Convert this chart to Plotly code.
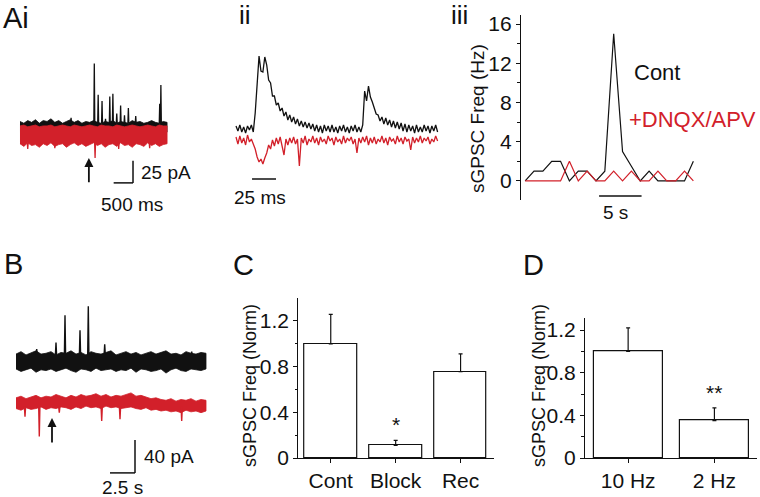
import plotly.graph_objects as go

W, H = 760, 497
RED = '#d2202a'
BLK = '#111111'
FONT = 'Liberation Sans, Arial, sans-serif'

# ---------------- Panel Ai (time in s, current in pA) ----------------
ai_t = [0.0, 0.1, 0.2, 0.3, 0.4, 0.5, 0.6, 0.7, 0.8, 0.9, 1.0, 1.1, 1.2, 1.3, 1.4, 1.5, 1.6, 1.7, 1.8, 1.9,
        2.0, 2.1, 2.2, 2.3, 2.4, 2.5, 2.6, 2.7, 2.8, 2.9, 3.0, 3.1, 3.2, 3.3, 3.4, 3.5, 3.6, 3.7, 3.8]
ai_black_top = [4, 2, 5, 3, 6, 2, 5, 4, 7, 3, 5, 2, 4, 6, 3, 5, 2, 4, 3, 5, 3, 2, 4, 3, 5, 2, 4, 3, 2, 5,
                3, 4, 2, 3, 5, 3, 2, 4, 3]
ai_black_bot = [-8, -10, -7, -9, -8, -11, -7, -9, -10, -8, -7, -9, -10, -8, -11, -7, -9, -8, -10, -7, -9, -8,
                -10, -9, -7, -8, -10, -9, -8, -7, -9, -10, -8, -9, -7, -10, -8, -9, -8]
ai_red_top = [-1, 0, -2, -1, 0, -2, -1, -1, 0, -2, -1, 0, -1, -2, 0, -1, -2, -1, 0, -1, -2, 0, -1, -1, -2, 0,
              -1, -2, -1, 0, -1, -2, -1, 0, -1, -2, 0, -1, -1]
ai_red_bot = [-21, -24, -20, -23, -22, -25, -21, -23, -20, -24, -22, -21, -25, -22, -20, -23, -21, -24, -22,
              -20, -23, -21, -25, -22, -21, -24, -20, -23, -22, -25, -21, -22, -24, -20, -23, -21, -24, -22, -21]
ai_spike_t = [1.32, 1.92, 2.02, 2.12, 2.21, 2.32, 2.40, 2.50, 2.60, 2.70, 2.80, 2.99, 3.61, 3.64]
ai_spike_amp = [8, 69, 34, 27, 7, 32, 35, 13, 22, 11, 19, 10, 24, 45]
ai_dip_t = [0.2, 0.9, 1.94, 2.55, 3.35]
ai_dip_amp = [-27, -26, -37, -27, -26]

# ---------------- Panel ii (time in ms, current in arbitrary pA) ----------------
ii_t = [0, 2, 4, 6, 8, 10, 12, 14, 16, 18, 20, 22, 24, 26, 28, 30, 32, 34, 36, 38, 40, 42, 44, 46, 48, 50,
        52, 54, 56, 58, 60, 62, 64, 66, 68, 70, 72, 74, 76, 78, 80, 82, 84, 86, 88, 90, 92, 94, 96, 98,
        100, 102, 104, 106, 108, 110, 112, 114, 116, 118, 120, 122, 124, 126, 128, 130, 132, 134, 136,
        138, 140, 142, 144, 146, 148, 150, 152, 154, 156, 158, 160, 162, 164, 166, 168, 170, 172, 174,
        176, 178, 180, 182, 184, 186, 188, 190, 192, 194, 196, 198, 200, 202, 204, 206, 208, 210]
ii_black = [3, -2, 4, -3, 2, -4, 3, -1, 4, -3,
            16, 44, 73, 58, 57, 72, 64, 49, 46, 33,
            33, 24, 26, 18, 21, 13, 17, 9, 14, 7,
            12, 5, 10, 3, 8, 2, 7, 1, 6, 0,
            5, -2, 4, -3, 3, -4, 4, -2, 3, -3,
            4, -3, 2, -4, 3, -2, 4, -3, 2, -4,
            3, -2, 4, -3, 2, -3, 4,
            38, 28, 43, 32, 27, 21, 15, 14, 8, 12,
            5, 11, 4, 9, 2, 8, 1, 7, 0, 6,
            -2, 5, -3, 4, -2, 3, -4, 4, -3, 2,
            -3, 4, -2, 3, -4, 3, -2, 4, -3]
ii_red = [-8, -15, -7, -14, -9, -16, -6, -13, -10, -15,
          -20, -28, -33, -30, -35, -29, -24, -16, -20, -11,
          -17, -9, -15, -8, -19, -26, -10, -16, -9, -14,
          -8, -15, -10, -37, -9, -14, -7, -16, -10, -13,
          -7, -14, -9, -16, -8, -13, -10, -15, -7, -12,
          -9, -16, -8, -13, -10, -15, -7, -14, -9, -12,
          -8, -15, -10, -24, -9, -14, -8,
          -13, -7, -16, -9, -14, -8, -15, -10, -13, -7,
          -14, -9, -16, -8, -12, -10, -15, -7, -13, -9,
          -15, -8, -12, -10, -21, -8, -14, -9, -13, -7,
          -14, -9, -12, -8, -15, -10, -13, -7, -12]

# ---------------- Panel iii (1-s bins, Hz) ----------------
iii_bin = [0, 1, 2, 3, 4, 5, 6, 7, 8, 9, 10, 11, 12, 13, 14, 15, 16, 17, 18, 19]
iii_cont = [0, 1, 1, 2, 2, 0, 1, 1, 0, 1, 15, 3, 1.5, 0, 1, 0, 0, 0, 0, 2]
iii_dnqx = [0, 0, 0, 0, 0, 2, 0, 1, 0, 0, 1, 0, 1, 0, 0, 1, 0, 0, 1, 0]
iii_ticks = [0, 4, 8, 12, 16]

# ---------------- Panel B (time in s, current in pA) ----------------
b_t = [0.0, 0.5, 1.0, 1.5, 2.0, 2.5, 3.0, 3.5, 4.0, 4.5, 5.0, 5.5, 6.0, 6.5, 7.0, 7.5, 8.0, 8.5, 9.0, 9.5,
       10.0, 10.5, 11.0, 11.5, 12.0, 12.5, 13.0, 13.5, 14.0, 14.5, 15.0, 15.5, 16.0, 16.5, 17.0, 17.5,
       18.0, 18.5, 19.0]
b_black_top = [9, 12, 8, 11, 13, 9, 10, 12, 8, 11, 10, 13, 9, 11, 8, 12, 10, 9, 11, 13, 8, 10, 12, 9, 11, 8,
               10, 12, 9, 11, 13, 9, 10, 8, 12, 10, 9, 11, 10]
b_black_bot = [-9, -12, -10, -8, -13, -10, -11, -9, -12, -10, -8, -11, -13, -9, -10, -12, -8, -11, -10, -9,
               -12, -10, -11, -8, -13, -9, -10, -12, -11, -9, -14, -10, -8, -11, -12, -9, -10, -11, -9]
b_red_top = [-44, -42, -45, -43, -41, -44, -42, -43, -40, -42, -44, -41, -43, -40, -42, -41, -39, -42, -40,
             -43, -41, -42, -40, -38, -42, -41, -43, -45, -44, -46, -47, -45, -48, -46, -47, -45, -48, -46, -47]
b_red_bot = [-57, -59, -56, -58, -57, -55, -58, -56, -57, -55, -56, -58, -55, -57, -54, -56, -55, -57, -54,
             -56, -55, -57, -56, -55, -57, -58, -56, -59, -58, -60, -59, -61, -60, -62, -59, -61, -60, -62, -60]
b_spike_t = [2.07, 4.0, 4.9, 6.4, 7.23, 8.87, 17.57]
b_spike_amp = [15, 23, 56, 38, 67, 21, 12]
b_dip_t = [0.9, 2.33, 4.33, 8.57, 10.4, 16.57]
b_dip_amp = [-67, -91, -62, -72, -70, -72]

# ---------------- Panel C ----------------
c_cats = ['Cont', 'Block', 'Rec']
c_mean = [1.0, 0.11, 0.755]
c_err = [0.258, 0.045, 0.156]
c_sig = ['', '*', '']

# ---------------- Panel D ----------------
d_cats = ['10 Hz', '2 Hz']
d_mean = [1.0, 0.35]
d_err = [0.22, 0.12]
d_sig = ['', '**']

norm_ticks = [0, 0.4, 0.8, 1.2]
norm_minor = [0.2, 0.6, 1.0]


def fx(px):
    return px / W


def fy(py):
    return 1 - py / H


def band(t, top, bot):
    return list(t) + list(reversed(t)), list(top) + list(reversed(bot))


def spikes(ts, amps, base, w):
    xs, ys = [], []
    for t, a in zip(ts, amps):
        xs += [t - w, t, t + w, None]
        ys += [base, a, base, None]
    return xs, ys


fig = go.Figure()

# Ai
x, y = band(ai_t, ai_black_top, ai_black_bot)
fig.add_trace(go.Scatter(x=x, y=y, fill='toself', fillcolor=BLK, mode='lines',
                         line=dict(color=BLK, width=0.8), xaxis='x', yaxis='y'))
x, y = spikes(ai_spike_t, ai_spike_amp, 2, 0.012)
fig.add_trace(go.Scatter(x=x, y=y, mode='lines', line=dict(color=BLK, width=1.3), xaxis='x', yaxis='y'))
x, y = band(ai_t, ai_red_top, ai_red_bot)
fig.add_trace(go.Scatter(x=x, y=y, fill='toself', fillcolor=RED, mode='lines',
                         line=dict(color=RED, width=0.8), xaxis='x', yaxis='y'))
x, y = spikes(ai_dip_t, ai_dip_amp, -20, 0.012)
fig.add_trace(go.Scatter(x=x, y=y, mode='lines', line=dict(color=RED, width=1.3), xaxis='x', yaxis='y'))

# ii
fig.add_trace(go.Scatter(x=ii_t, y=ii_black, mode='lines', line=dict(color=BLK, width=1.3),
                         xaxis='x2', yaxis='y2'))
fig.add_trace(go.Scatter(x=ii_t, y=ii_red, mode='lines', line=dict(color=RED, width=1.3),
                         xaxis='x2', yaxis='y2'))

# iii
fig.add_trace(go.Scatter(x=iii_bin, y=iii_cont, mode='lines', line=dict(color=BLK, width=1.2),
                         xaxis='x3', yaxis='y3'))
fig.add_trace(go.Scatter(x=iii_bin, y=iii_dnqx, mode='lines', line=dict(color=RED, width=1.2),
                         xaxis='x3', yaxis='y3'))

# B
x, y = band(b_t, b_black_top, b_black_bot)
fig.add_trace(go.Scatter(x=x, y=y, fill='toself', fillcolor=BLK, mode='lines',
                         line=dict(color=BLK, width=0.8), xaxis='x4', yaxis='y4'))
x, y = spikes(b_spike_t, b_spike_amp, 8, 0.06)
fig.add_trace(go.Scatter(x=x, y=y, mode='lines', line=dict(color=BLK, width=1.4), xaxis='x4', yaxis='y4'))
x, y = band(b_t, b_red_top, b_red_bot)
fig.add_trace(go.Scatter(x=x, y=y, fill='toself', fillcolor=RED, mode='lines',
                         line=dict(color=RED, width=0.8), xaxis='x4', yaxis='y4'))
x, y = spikes(b_dip_t, b_dip_amp, -55, 0.06)
fig.add_trace(go.Scatter(x=x, y=y, mode='lines', line=dict(color=RED, width=1.4), xaxis='x4', yaxis='y4'))

# C
fig.add_trace(go.Bar(x=[0, 1, 2], y=c_mean, width=0.806,
                     marker=dict(color='white', line=dict(color=BLK, width=1.2)),
                     error_y=dict(type='data', symmetric=False, array=c_err, arrayminus=[0, 0, 0],
                                  color=BLK, thickness=1.2, width=2),
                     xaxis='x5', yaxis='y5'))
# D
fig.add_trace(go.Bar(x=[0, 1], y=d_mean, width=0.8,
                     marker=dict(color='white', line=dict(color=BLK, width=1.2)),
                     error_y=dict(type='data', symmetric=False, array=d_err, arrayminus=[0, 0],
                                  color=BLK, thickness=1.2, width=2),
                     xaxis='x6', yaxis='y6'))

hidden = dict(visible=False, showgrid=False, zeroline=False, automargin=False)
tickfont = dict(family=FONT, size=21, color=BLK)
yax_common = dict(showline=True, linecolor=BLK, linewidth=1.2, ticks='outside', ticklen=4,
                  tickwidth=1.2, tickcolor=BLK, showgrid=False, zeroline=False, tickfont=tickfont,
                  automargin=False)

fig.update_layout(
    template='none',
    width=W, height=H, margin=dict(l=0, r=0, t=0, b=0, pad=0), autosize=False,
    paper_bgcolor='white', plot_bgcolor='rgba(0,0,0,0)', showlegend=False,
    font=dict(family=FONT, color=BLK),
    bargap=0,
    # Ai
    xaxis=dict(domain=[fx(10), fx(180)], range=[-0.258, 4.134], anchor='y', **hidden),
    yaxis=dict(domain=[fy(190), fy(50)], range=[-73.0, 84.3], anchor='x', **hidden),
    # ii
    xaxis2=dict(domain=[fx(230), fx(445)], range=[-6.25, 217.7], anchor='y2', **hidden),
    yaxis2=dict(domain=[fy(190), fy(40)], range=[-61, 89], anchor='x2', **hidden),
    # iii
    xaxis3=dict(domain=[fx(521), fx(700)], range=[-0.47, 19.75], anchor='y3', **hidden),
    yaxis3=dict(domain=[fy(200), fy(15)], range=[-1.94, 16.92], anchor='x3',
                tickvals=iii_ticks, minor=dict(tickvals=[2, 6, 10, 14], ticklen=2.5, ticks='outside',
                                               tickcolor=BLK, tickwidth=1), **yax_common),
    # B
    xaxis4=dict(domain=[fx(10), fx(215)], range=[-0.6, 19.9], anchor='y4', **hidden),
    yaxis4=dict(domain=[fy(480), fy(290)], range=[-143.6, 86.7], anchor='x4', **hidden),
    # C
    xaxis5=dict(domain=[fx(298.3), fx(494)], range=[-0.5, 2.515], anchor='y5',
                tickvals=[0, 1, 2], ticktext=c_cats, **yax_common),
    yaxis5=dict(domain=[fy(458), fy(298.1)], range=[0, 1.4], anchor='x5',
                tickvals=norm_ticks, ticktext=['0', '0.4', '0.8', '1.2'],
                minor=dict(tickvals=norm_minor, ticklen=2.5, ticks='outside', tickcolor=BLK, tickwidth=1),
                **yax_common),
    # D
    xaxis6=dict(domain=[fx(585), fx(756.7)], range=[-0.5, 1.49], anchor='y6',
                tickvals=[0, 1], ticktext=d_cats, **yax_common),
    yaxis6=dict(domain=[fy(458), fy(318.3)], range=[0, 1.31], anchor='x6',
                tickvals=norm_ticks, ticktext=['0', '0.4', '0.8', '1.2'],
                minor=dict(tickvals=norm_minor, ticklen=2.5, ticks='outside', tickcolor=BLK, tickwidth=1),
                **yax_common),
)

# scale bars
bar_line = dict(color=BLK, width=1.5)
shapes = [
    dict(type='line', xref='x', yref='y', x0=2.42, x1=2.92, y0=-65, y1=-65, line=bar_line),
    dict(type='line', xref='x', yref='y', x0=2.92, x1=2.92, y0=-65, y1=-40, line=bar_line),
    dict(type='line', xref='x2', yref='y2', x0=16.7, x1=41.7, y0=-50, y1=-50, line=bar_line),
    dict(type='line', xref='x3', yref='y3', x0=8.35, x1=13.15, y0=-1.53, y1=-1.53, line=bar_line),
    dict(type='line', xref='x4', yref='y4', x0=9.4, x1=11.9, y0=-135, y1=-135, line=bar_line),
    dict(type='line', xref='x4', yref='y4', x0=11.9, x1=11.9, y0=-135, y1=-95, line=bar_line),
]
fig.update_layout(shapes=shapes)

ann = []


def txt(text, px, py, size, xanchor='center', color=BLK, angle=0):
    ann.append(dict(text=text, x=fx(px), y=fy(py), xref='paper', yref='paper', showarrow=False,
                    xanchor=xanchor, yanchor='middle', textangle=angle,
                    font=dict(family=FONT, size=size, color=color)))


# panel letters
txt('Ai', 1, 18, 29, 'left')
txt('ii', 237, 15, 26, 'left')
txt('iii', 449, 15, 26, 'left')
txt('B', 2, 264, 29, 'left')
txt('C', 231, 265, 29, 'left')
txt('D', 521, 265, 29, 'left')
# scale bar labels
txt('25 pA', 139, 173, 19, 'left')
txt('500 ms', 132, 204, 19)
txt('25 ms', 260, 197, 19)
txt('5 s', 615, 212, 19)
txt('40 pA', 142, 456, 19, 'left')
txt('2.5 s', 122, 487, 19)
# iii legend-like labels
txt('Cont', 632, 72, 22, 'left')
txt('+DNQX/APV', 627, 119, 22, 'left', color=RED)
# axis titles
txt('sGPSC Freq (Hz)', 477, 119, 19, angle=-90)
txt('sGPSC Freq (Norm)', 250, 386, 18, angle=-90)
txt('sGPSC Freq (Norm)', 539, 386, 18, angle=-90)

# significance marks
for i, s in enumerate(c_sig):
    if s:
        ann.append(dict(text=s, x=i, y=c_mean[i] + c_err[i], xref='x5', yref='y5', showarrow=False,
                        yanchor='bottom', yshift=2, font=dict(family=FONT, size=21, color=BLK)))
for i, s in enumerate(d_sig):
    if s:
        ann.append(dict(text=s, x=i, y=d_mean[i] + d_err[i], xref='x6', yref='y6', showarrow=False,
                        yanchor='bottom', yshift=2, font=dict(family=FONT, size=21, color=BLK)))

# arrows
ann.append(dict(x=1.78, y=-37, ax=1.78, ay=-66, xref='x', yref='y', axref='x', ayref='y', text='',
                showarrow=True, arrowhead=2, arrowsize=1, arrowwidth=1.8, arrowcolor=BLK))
ann.append(dict(x=3.6, y=-68.5, ax=3.6, ay=-100, xref='x4', yref='y4', axref='x4', ayref='y4', text='',
                showarrow=True, arrowhead=2, arrowsize=1, arrowwidth=1.8, arrowcolor=BLK))

fig.update_layout(annotations=ann)
fig.write_html('out.html', config={'displayModeBar': False},
               post_script="document.body.style.margin='0px';"
                           "document.documentElement.style.overflow='hidden';")
